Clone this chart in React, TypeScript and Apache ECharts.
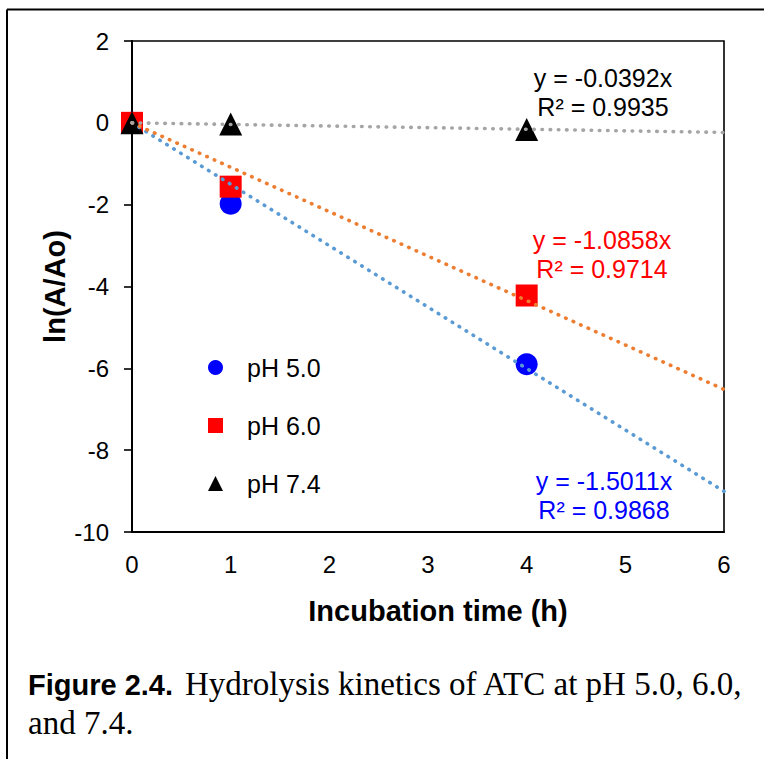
import React, { useEffect, useRef } from 'react';
import * as echarts from 'echarts';

// ---- data ----
const seriesNames = ['pH 5.0', 'pH 6.0', 'pH 7.4'];
const timeH = [0, 1, 4];
const lnPH50 = [0, -1.98, -5.9];
const lnPH60 = [0, -1.56, -4.22];
const lnPH74 = [0, -0.03, -0.16];
const trendSlopes = [-1.5011, -1.0858, -0.0392];
const trendR2 = [0.9868, 0.9714, 0.9935];
const trendX = [0, 6];
const xRange = [0, 6];
const yRange = [-10, 2];

const markerColors = ['#0000FF', '#FF0000', '#000000'];
const markerSymbols = ['circle', 'rect', 'triangle'];
const markerSizes = [22, 22, 23];
const trendColors = ['#5B9BD5', '#ED7D31', '#A5A5A5'];
const labelColors = ['#0000FF', '#FF0000', '#000000'];
const labelPos = [
  [604, 481],
  [602, 240],
  [603, 78],
];

const SANS = '"Liberation Sans", Arial, sans-serif';
const SERIF = '"Liberation Serif", "Times New Roman", serif';

export default function App() {
  const ref = useRef<HTMLDivElement>(null);

  useEffect(() => {
    const chart = echarts.init(ref.current!, null, { renderer: 'svg' });
    const values = [lnPH50, lnPH60, lnPH74];

    const scatterSeries = seriesNames.map((name, i) => ({
      name,
      type: 'scatter',
      data: timeH.map((t, j) => [t, values[i][j]]),
      symbol: markerSymbols[i],
      symbolSize: markerSizes[i],
      itemStyle: { color: markerColors[i], opacity: 1 },
      z: 2 + i * 0.01,
    }));

    const trendSeries = trendSlopes.map((s, i) => ({
      name: 'trend ' + seriesNames[i],
      type: 'line',
      data: trendX.map((x) => [x, s * x]),
      showSymbol: false,
      symbol: 'none',
      silent: true,
      lineStyle: {
        color: trendColors[i],
        width: 3.6,
        type: [0.5, 7.7],
        cap: 'round',
      },
      z: 5,
    }));

    const trendLabels: any[] = [];
    trendSlopes.forEach((s, i) => {
      const [cx, cy] = labelPos[i];
      trendLabels.push({
        type: 'text',
        x: cx,
        y: cy,
        style: {
          text: `y = ${s.toFixed(4)}x`,
          font: `25px ${SANS}`,
          fill: labelColors[i],
          align: 'center',
          verticalAlign: 'middle',
        },
        z: 10,
      });
      trendLabels.push({
        type: 'text',
        x: cx,
        y: cy + 29,
        style: {
          text: `R² = ${trendR2[i].toFixed(4)}`,
          font: `25px ${SANS}`,
          fill: labelColors[i],
          align: 'center',
          verticalAlign: 'middle',
        },
        z: 10,
      });
    });

    const option: any = {
      animation: false,
      backgroundColor: '#ffffff',
      grid: {
        left: 132,
        right: 40,
        top: 41,
        bottom: 227,
        show: true,
        borderColor: '#000',
        borderWidth: 1.6,
        backgroundColor: 'transparent',
      },
      legend: {
        data: seriesNames,
        orient: 'vertical',
        left: 203,
        top: 350,
        itemWidth: 15,
        itemHeight: 15,
        itemGap: 33,
        textStyle: {
          fontFamily: SANS,
          fontSize: 25,
          color: '#000',
          lineHeight: 25,
          padding: [0, 0, 0, 19],
        },
        selectedMode: false,
      },
      xAxis: {
        type: 'value',
        min: xRange[0],
        max: xRange[1],
        interval: 1,
        name: 'Incubation time (h)',
        nameLocation: 'middle',
        nameGap: 64,
        nameMoveOverlap: false,
        nameTextStyle: {
          fontFamily: SANS,
          fontWeight: 'bold',
          fontSize: 29,
          color: '#000',
          padding: [0, 0, 0, 20],
        },
        axisLine: { show: true, onZero: false, lineStyle: { color: '#000', width: 2 } },
        axisTick: { show: false },
        splitLine: { show: false },
        axisLabel: {
          fontFamily: SANS,
          fontSize: 24,
          color: '#000',
          margin: 20,
        },
      },
      yAxis: {
        type: 'value',
        min: yRange[0],
        max: yRange[1],
        interval: 2,
        name: 'ln(A/Ao)',
        nameLocation: 'middle',
        nameGap: 63,
        nameMoveOverlap: false,
        nameTextStyle: {
          fontFamily: SANS,
          fontWeight: 'bold',
          fontSize: 29,
          color: '#000',
        },
        axisLine: { show: true, onZero: false, lineStyle: { color: '#000', width: 2 } },
        axisTick: { show: true, inside: false, length: 8, lineStyle: { color: '#000', width: 1.6 } },
        splitLine: { show: false },
        axisLabel: {
          fontFamily: SANS,
          fontSize: 24,
          color: '#000',
          margin: 23,
        },
      },
      series: [...scatterSeries, ...trendSeries],
      graphic: [
        {
          type: 'line',
          shape: { x1: 7, y1: 9.5, x2: 764, y2: 9.5 },
          style: { stroke: '#000', lineWidth: 2 },
        },
        {
          type: 'line',
          shape: { x1: 7, y1: 9.5, x2: 7, y2: 759 },
          style: { stroke: '#000', lineWidth: 2 },
        },
        ...trendLabels,
        {
          type: 'text',
          x: 28,
          y: 685,
          style: {
            text: 'Figure 2.4.',
            font: `bold 29px ${SANS}`,
            fill: '#000',
            verticalAlign: 'middle',
          },
        },
        {
          type: 'text',
          x: 185,
          y: 684,
          style: {
            text: 'Hydrolysis kinetics of ATC at pH 5.0, 6.0,',
            font: `33px ${SERIF}`,
            fill: '#000',
            verticalAlign: 'middle',
          },
        },
        {
          type: 'text',
          x: 28,
          y: 723,
          style: {
            text: 'and 7.4.',
            font: `33px ${SERIF}`,
            fill: '#000',
            verticalAlign: 'middle',
          },
        },
      ],
    };

    chart.setOption(option);
    return () => chart.dispose();
  }, []);

  return (
    <div
      ref={ref}
      style={{ position: 'absolute', left: 0, top: 0, width: 764, height: 759, background: '#fff' }}
    />
  );
}
